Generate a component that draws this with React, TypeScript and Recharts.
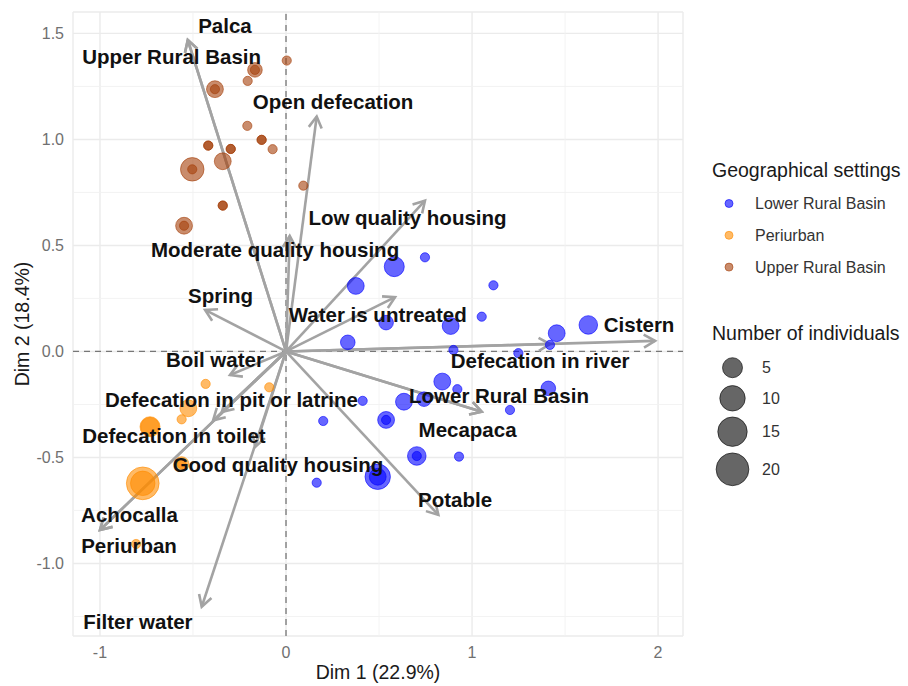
import React from 'react';
import { ScatterChart, Scatter, XAxis, YAxis, CartesianGrid, ReferenceLine } from 'recharts';

// axis extents and grid breaks
const X_DOMAIN = [-1.145, 2.134];
const Y_DOMAIN = [-1.342, 1.601];
const X_TICKS = [-1, 0, 1, 2];
const Y_TICKS = [-1, -0.5, 0, 0.5, 1, 1.5];
const X_MINOR = [-0.5, 0.5, 1.5];
const Y_MINOR = [-1.25, -0.75, -0.25, 0.25, 0.75, 1.25];

// household coordinates on the first two dimensions, by setting
const lowerX = [0.747, 0.582, 0.375, 1.115, 0.538, 0.885, 1.052, 0.332, 1.455, 1.625, 1.419, 1.249, 0.9, 0.84, 0.921, 1.41, 1.204, 0.742, 0.634, 0.412, 0.538, 0.538, 0.2, 0.703, 0.703, 0.93, 0.493, 0.493, 0.165];
const lowerY = [0.444, 0.4, 0.309, 0.312, 0.136, 0.12, 0.164, 0.043, 0.086, 0.125, 0.031, -0.008, 0.007, -0.142, -0.178, -0.174, -0.276, -0.225, -0.237, -0.233, -0.323, -0.323, -0.328, -0.493, -0.493, -0.496, -0.591, -0.591, -0.619];
const lowerN = [1, 5, 3, 1, 2, 3, 1, 2, 3, 4, 1, 1, 1, 3, 1, 2, 1, 2, 3, 1, 3, 1, 1, 4, 1, 1, 10, 3, 1];

const periX = [-0.432, -0.09, -0.525, -0.561, -0.731, -0.731, -0.561, -0.561, -0.77, -0.77, -0.806];
const periY = [-0.153, -0.169, -0.268, -0.32, -0.355, -0.355, -0.531, -0.531, -0.622, -0.622, -0.908];
const periN = [1, 1, 3, 1, 5, 4, 2, 1, 20, 9, 1];

const upperX = [0.004, -0.167, -0.167, -0.206, -0.382, -0.382, -0.208, -0.131, -0.131, -0.072, -0.418, -0.418, -0.297, -0.297, -0.34, -0.504, -0.504, 0.093, -0.34, -0.34, -0.548, -0.548];
const upperY = [1.372, 1.328, 1.328, 1.276, 1.237, 1.237, 1.064, 0.998, 0.998, 0.954, 0.971, 0.971, 0.955, 0.955, 0.897, 0.859, 0.859, 0.782, 0.688, 0.688, 0.593, 0.593];
const upperN = [1, 2, 1, 1, 3, 1, 1, 1, 1, 1, 1, 1, 1, 1, 3, 8, 1, 1, 1, 1, 3, 1];

// variable categories: arrow tips and repelled label anchors
const categories = ['Palca', 'Upper Rural Basin', 'Open defecation', 'Low quality housing', 'Moderate quality housing', 'Spring', 'Water is untreated', 'Cistern', 'Boil water', 'Defecation in river', 'Defecation in pit or latrine', 'Lower Rural Basin', 'Mecapaca', 'Defecation in toilet', 'Good quality housing', 'Potable', 'Achocalla', 'Periurban', 'Filter water'];
const tipX = [-0.528, -0.528, 0.165, 0.747, 0.02, -0.435, 0.586, 1.984, -0.301, 1.419, -0.345, 1.052, 1.052, -0.392, -0.165, 0.819, -1.0, -1.0, -0.453];
const tipY = [1.469, 1.469, 1.108, 0.711, 0.545, 0.196, 0.256, 0.05, -0.111, 0.035, -0.285, -0.284, -0.284, -0.325, -0.45, -0.771, -0.842, -0.842, -1.204];
const labelX = [-0.328, -0.615, 0.253, 0.653, -0.059, -0.352, 0.493, 1.898, -0.382, 1.366, -0.293, 1.145, 0.976, -0.602, -0.043, 0.909, -0.841, -0.844, -0.796];
const labelY = [1.538, 1.389, 1.177, 0.63, 0.479, 0.264, 0.172, 0.125, -0.04, -0.042, -0.226, -0.21, -0.368, -0.399, -0.535, -0.7, -0.769, -0.915, -1.276];

const groupNames = ['Lower Rural Basin', 'Periurban', 'Upper Rural Basin'];
const sizeBreaks = [5, 10, 15, 20];

const COLORS = ['#0000FF', '#FF8C00', '#A5400A'];
const ALPHA = 0.6;
const FONT = '"Liberation Sans", Arial, Helvetica, sans-serif';

const toPoints = (xs: number[], ys: number[], ns: number[]) => xs.map((x, i) => ({ x, y: ys[i], n: ns[i] }));

const groups = [
  toPoints(lowerX, lowerY, lowerN),
  toPoints(periX, periY, periN),
  toPoints(upperX, upperY, upperN),
];

const labelData = categories.map((name, i) => ({ x: labelX[i], y: labelY[i], name }));

// size scale: radius grows with sqrt of the count
const radius = (n: number) => 4.6 + 2.7 * Math.sqrt(Math.max(n - 1, 0));

const bubble = (color: string) => (p: any) => (
  <circle
    cx={p.cx}
    cy={p.cy}
    r={radius(p.payload.n)}
    fill={color}
    fillOpacity={ALPHA}
    stroke={color}
    strokeOpacity={ALPHA}
    strokeWidth={1}
  />
);

const ArrowShape = (p: any) => {
  const { x1, y1, x2, y2 } = p;
  const ang = Math.atan2(y2 - y1, x2 - x1);
  const len = 13;
  const spread = Math.PI / 6;
  const ax = x2 - len * Math.cos(ang - spread);
  const ay = y2 - len * Math.sin(ang - spread);
  const bx = x2 - len * Math.cos(ang + spread);
  const by = y2 - len * Math.sin(ang + spread);
  return (
    <g stroke="#a3a3a3" strokeWidth={2.6} fill="none">
      <line x1={x1} y1={y1} x2={x2} y2={y2} />
      <polyline points={`${ax},${ay} ${x2},${y2} ${bx},${by}`} strokeLinejoin="miter" />
    </g>
  );
};

const CategoryLabel = (p: any) => (
  <text
    x={p.cx}
    y={p.cy}
    dy="0.36em"
    textAnchor="middle"
    fontSize={20.5}
    fontWeight="bold"
    fill="#111"
    fontFamily={FONT}
  >
    {p.payload.name}
  </text>
);

const XTitle = (p: any) => {
  const vb = p.viewBox || { x: 73, y: 636, width: 610, height: 50 };
  return (
    <text x={vb.x + vb.width / 2} y={vb.y + 43} textAnchor="middle" fontSize={19.5} fill="#1a1a1a" fontFamily={FONT}>
      Dim 1 (22.9%)
    </text>
  );
};

const YTitle = (p: any) => {
  const vb = p.viewBox || { x: 0, y: 12, width: 73, height: 624 };
  const cx = vb.x + 22;
  const cy = vb.y + vb.height / 2;
  return (
    <text
      x={cx}
      y={cy}
      dy="0.36em"
      transform={`rotate(-90 ${cx} ${cy})`}
      textAnchor="middle"
      fontSize={19.5}
      fill="#1a1a1a"
      fontFamily={FONT}
    >
      Dim 2 (18.4%)
    </text>
  );
};

const LegendPanel = () => {
  const sizeY = [367.7, 398.3, 431.7, 469.3];
  return (
    <svg width={208} height={360} style={{ position: 'absolute', left: 700, top: 150 }} fontFamily={FONT}>
      <text x={12} y={27} fontSize={19.5} fill="#1a1a1a">Geographical settings</text>
      {groupNames.map((g, i) => (
        <g key={g}>
          <circle cx={29} cy={53.5 + i * 31.8} r={4} fill={COLORS[i]} fillOpacity={ALPHA} stroke={COLORS[i]} strokeOpacity={ALPHA} strokeWidth={1} />
          <text x={55} y={53.5 + i * 31.8} dy="0.36em" fontSize={16} fill="#333">{g}</text>
        </g>
      ))}
      <text x={12} y={190} fontSize={19.5} fill="#1a1a1a">Number of individuals</text>
      {sizeBreaks.map((n, i) => (
        <g key={n}>
          <circle cx={32.5} cy={sizeY[i] - 150} r={radius(n)} fill="#000" fillOpacity={ALPHA} stroke="#000" strokeOpacity={ALPHA} strokeWidth={1} />
          <text x={62} y={sizeY[i] - 150} dy="0.36em" fontSize={16} fill="#333">{n}</text>
        </g>
      ))}
    </svg>
  );
};

export default function App() {
  return (
    <div style={{ position: 'absolute', left: 0, top: 0, width: 908, height: 686, background: '#fff', fontFamily: FONT }}>
      <ScatterChart width={908} height={686} margin={{ top: 12, right: 225, bottom: 0, left: 0 }}>
        <CartesianGrid stroke="#ebebeb" strokeWidth={1.4} />
        {X_MINOR.map((v) => (
          <ReferenceLine key={`xm${v}`} x={v} stroke="#f2f2f2" strokeWidth={0.9} />
        ))}
        {Y_MINOR.map((v) => (
          <ReferenceLine key={`ym${v}`} y={v} stroke="#f2f2f2" strokeWidth={0.9} />
        ))}
        <XAxis
          type="number"
          dataKey="x"
          domain={X_DOMAIN}
          ticks={X_TICKS}
          allowDataOverflow
          axisLine={false}
          tickLine={false}
          tickSize={0}
          tickMargin={11}
          height={50}
          tick={{ fill: '#707070', fontSize: 16 }}
          label={{ content: XTitle }}
        />
        <YAxis
          type="number"
          dataKey="y"
          domain={Y_DOMAIN}
          ticks={Y_TICKS}
          allowDataOverflow
          axisLine={false}
          tickLine={false}
          tickSize={0}
          tickMargin={9}
          width={73}
          tick={{ fill: '#707070', fontSize: 16 }}
          tickFormatter={(v: number) => v.toFixed(1)}
          label={{ content: YTitle }}
        />
        <ReferenceLine x={0} stroke="#777" strokeWidth={1.3} strokeDasharray="6 5" />
        <ReferenceLine y={0} stroke="#777" strokeWidth={1.3} strokeDasharray="6 5" />
        {groups.map((data, i) => (
          <Scatter key={groupNames[i]} name={groupNames[i]} data={data} shape={bubble(COLORS[i])} isAnimationActive={false} />
        ))}
        {categories.map((c, i) => (
          <ReferenceLine
            key={`arrow-${c}`}
            segment={[{ x: 0, y: 0 }, { x: tipX[i], y: tipY[i] }]}
            shape={ArrowShape}
            ifOverflow="visible"
          />
        ))}
        <Scatter data={labelData} shape={CategoryLabel} isAnimationActive={false} />
      </ScatterChart>
      <LegendPanel />
    </div>
  );
}
